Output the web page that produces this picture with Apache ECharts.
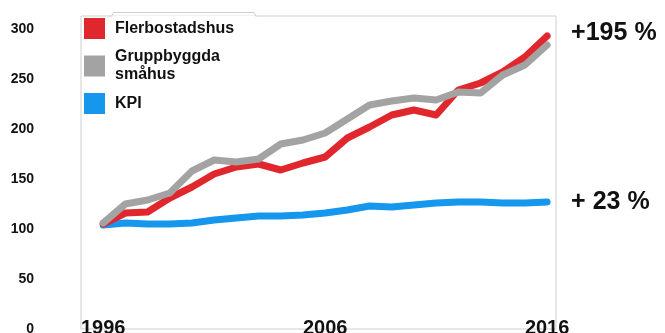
<!DOCTYPE html>
<html>
<head>
<meta charset="utf-8">
<script src="https://cdn.jsdelivr.net/npm/echarts@6/dist/echarts.min.js"></script>
<style>
  html, body { margin: 0; padding: 0; background: #fff; }
  #chart { width: 665px; height: 333px; }
</style>
</head>
<body>
<div id="chart"></div>
<script>
// years 1996..2016, index 1996 = about 100
var years = [1996, 1997, 1998, 1999, 2000, 2001, 2002, 2003, 2004, 2005, 2006,
             2007, 2008, 2009, 2010, 2011, 2012, 2013, 2014, 2015, 2016];
var flerbostadshus = [105, 116, 117, 131, 142, 155, 162, 165, 159, 166, 172,
                      191, 202, 214, 219, 214, 239, 246, 257, 272, 293];
var gruppbyggda = [106, 125, 129, 136, 158, 169, 167, 170, 185, 189, 196,
                   210, 224, 228, 231, 229, 237, 236, 254, 264, 284];
var kpi = [104, 106, 105, 105, 106, 109, 111, 113, 113, 114, 116,
           119, 123, 122, 124, 126, 127, 127, 126, 126, 127];
var yearLabels = [1996, 2006, 2016];
var endTexts = ['+195 %', '+ 23 %'];

function pairs(vals) {
  return vals.map(function (v, i) { return [years[i], v]; });
}

var chart = echarts.init(document.getElementById('chart'));

var font = '"Liberation Sans", Arial, Helvetica, sans-serif';

var option = {
  animation: false,
  textStyle: { fontFamily: font },
  grid: {
    left: 81, right: 109, top: 16, bottom: 4,
    outerBoundsMode: 'none',
    containLabel: false,
    show: true,
    borderColor: '#cfcfcf',
    borderWidth: 1
  },
  legend: {
    orient: 'vertical',
    left: 79,
    top: 13,
    icon: 'rect',
    itemWidth: 21,
    itemHeight: 21,
    itemGap: 9,
    data: ['Flerbostadshus', 'Gruppbyggda\nsmåhus', 'KPI'],
    textStyle: {
      fontFamily: font,
      fontSize: 16,
      fontWeight: 'bold',
      color: '#111',
      lineHeight: 18,
      padding: [0, 0, 0, 5]
    }
  },
  xAxis: {
    type: 'value',
    min: 1995.0,
    max: 2016.4,
    axisLine: { show: false },
    axisTick: { show: false },
    splitLine: { show: false },
    axisLabel: {
      customValues: yearLabels,
      fontFamily: font,
      fontSize: 20,
      fontWeight: 'bold',
      color: '#111',
      margin: -11,
      formatter: function (v) { return String(v); }
    }
  },
  yAxis: {
    type: 'value',
    min: 0,
    max: 313,
    interval: 50,
    axisLine: { show: false },
    axisTick: { show: false },
    splitLine: { show: false },
    axisLabel: {
      showMaxLabel: false,
      fontFamily: font,
      fontSize: 14,
      fontWeight: 'bold',
      color: '#111',
      margin: 47
    }
  },
  graphic: [
    {
      type: 'line', z: 100,
      shape: { x1: 112, y1: 16.5, x2: 256, y2: 16.5 },
      style: { stroke: '#fff', lineWidth: 2 }
    },
    {
      type: 'polyline', z: 101,
      shape: { points: [[111.5, 16.5], [113.5, 12.5], [254, 12.5], [256, 16.5]] },
      style: { stroke: '#cfcfcf', lineWidth: 1, fill: null }
    }
  ],
  series: [
    {
      name: 'KPI',
      type: 'line',
      data: pairs(kpi),
      color: '#1597ee',
      symbol: 'none',
      lineStyle: { width: 7, cap: 'round', join: 'round' },
      endLabel: {
        show: true,
        formatter: endTexts[1],
        distance: 24,
        fontFamily: font,
        fontSize: 25,
        fontWeight: 'bold',
        color: '#111'
      }
    },
    {
      name: 'Flerbostadshus',
      type: 'line',
      data: pairs(flerbostadshus),
      color: '#e0272d',
      symbol: 'none',
      lineStyle: { width: 7, cap: 'round', join: 'round' },
      endLabel: {
        show: true,
        formatter: endTexts[0],
        distance: 24,
        offset: [0, -3],
        fontFamily: font,
        fontSize: 25,
        fontWeight: 'bold',
        color: '#111'
      }
    },
    {
      name: 'Gruppbyggda\nsmåhus',
      type: 'line',
      data: pairs(gruppbyggda),
      color: '#a3a3a3',
      symbol: 'none',
      lineStyle: { width: 7, cap: 'round', join: 'round' }
    }
  ]
};

chart.setOption(option);
</script>
</body>
</html>
